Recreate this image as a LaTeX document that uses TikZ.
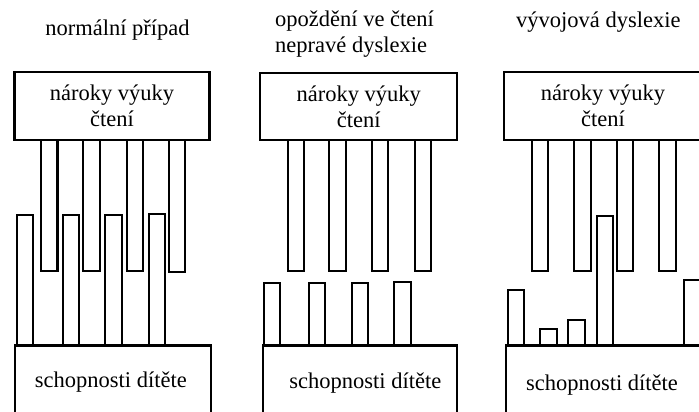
\documentclass[tikz,border=0pt]{standalone}
\usepackage{fontspec}
\setmainfont{Liberation Serif}
\begin{document}
\begin{tikzpicture}[x=1pt,y=-1pt,
  frame/.style={draw=black,line width=2.1pt,inner sep=0pt,outer sep=0pt,
    align=center,font=\fontsize{22.5}{26}\selectfont},
  tooth/.style={draw=black,line width=2.1pt,fill=white},
  lbl/.style={inner sep=0pt,font=\fontsize{22.5}{26}\selectfont},
]
\useasboundingbox (0,0) rectangle (699,412);
\clip (0,0) rectangle (699,412);

% --- panel titles
\node[lbl,anchor=base] (title1) at (117.5,36) {normální případ};
\node[lbl,anchor=base west] (title2a) at (275,26.7) {opoždění ve čtení};
\node[lbl,anchor=base west] (title2b) at (275,52.7) {nepravé dyslexie};
\node[lbl,anchor=base] (title3) at (598.4,27.7) {vývojová dyslexie};

% --- teeth: hanging from the demands, standing on the abilities
% panel 1
\foreach \x/\b in {41/271.4, 83.2/271.4, 126.6/271.4, 168.6/272.4}
  \draw[tooth] (\x,140) rectangle ++(16.5,\b-140);
\foreach \x/\t in {16.9/215.2, 62.6/215.2, 105.2/215.2, 148.6/214.2}
  \draw[tooth] (\x,\t) rectangle ++(16.5,345.5-\t);
% panel 2
\foreach \x in {287.6, 329.2, 371.9, 414.9}
  \draw[tooth] (\x,140) rectangle ++(16.5,131.4);
\foreach \x/\t in {263.6/282.6, 308.6/282.6, 351.9/282.6, 394.2/281.6}
  \draw[tooth] (\x,\t) rectangle ++(16.5,345.5-\t);
% panel 3
\foreach \x in {531.9, 574.2, 616.9, 659.2}
  \draw[tooth] (\x,140) rectangle ++(16.5,131.4);
\foreach \x/\t in {507.6/290.2, 540.2/329.2, 568.2/320.2, 596.6/215.9, 684.2/279.9}
  \draw[tooth] (\x,\t) rectangle ++(16.5,345.5-\t);

% --- demand boxes
\node[frame,minimum width=195,minimum height=68.3] (demand1) at (112,105.85)
  {nároky výuky\\čtení};
\node[frame,minimum width=197.4,minimum height=66.8] (demand2) at (358.7,106.6)
  {nároky výuky\\čtení};
\node[frame,minimum width=197.6,minimum height=68.4] (demand3) at (603,105.8)
  {nároky výuky\\čtení};

% --- ability boxes (continue below the lower edge)
\node[frame,minimum width=195.9,minimum height=94.5] (skills1) at (112.85,392.75) {};
\node[frame,minimum width=194.8,minimum height=94.5] (skills2) at (360,392.75) {};
\node[frame,minimum width=196.1,minimum height=94.5] (skills3) at (603.95,392.75) {};
\node[lbl,anchor=base] (skillstext1) at (110.8,387) {schopnosti dítěte};
\node[lbl,anchor=base] (skillstext2) at (365.3,388) {schopnosti dítěte};
\node[lbl,anchor=base] (skillstext3) at (602,390) {schopnosti dítěte};
\end{tikzpicture}
\end{document}
